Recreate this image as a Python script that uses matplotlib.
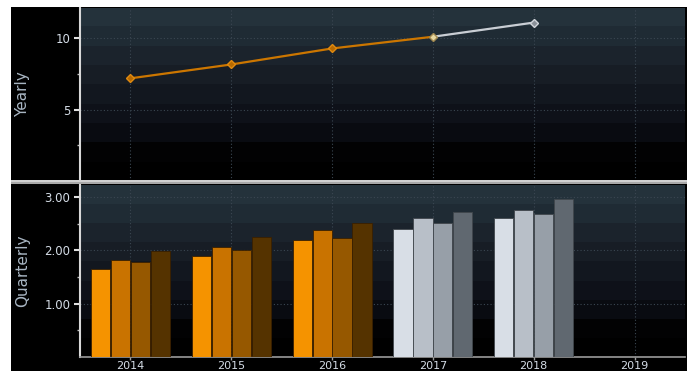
import matplotlib
matplotlib.use("Agg")
import matplotlib.pyplot as plt
import numpy as np
from matplotlib.patches import Rectangle

# ---- data ----
years = [2014, 2015, 2016, 2017, 2018]
year_ticks = [2014, 2015, 2016, 2017, 2018, 2019]
yearly_values = [7.18, 8.15, 9.27, 10.09, 11.08]
n_actual = 4  # 2014-2017 reported (orange line), 2017-2018 estimate (grey)

q1 = [1.65, 1.89, 2.19, 2.40, 2.61]
q2 = [1.83, 2.06, 2.39, 2.61, 2.76]
q3 = [1.78, 2.01, 2.24, 2.51, 2.68]
q4 = [1.99, 2.26, 2.51, 2.72, 2.96]
n_actual_bars = 3  # 2014-2016 actual, 2017-2018 estimates

yearly_ticks = [5, 10]
quarterly_ticks = [1.0, 2.0, 3.0]
quarterly_ticklabels = ["1.00", "2.00", "3.00"]

# ---- styling ----
orange_q = ["#F59300", "#C97300", "#965800", "#553300"]
grey_q = ["#D8DEE6", "#B8BFC8", "#979FA8", "#606870"]
band_colors = ["#24323b", "#1f2b34", "#1b232c", "#171d25",
               "#12171f", "#0e1119", "#090b11", "#020203", "#000000"]
tick_color = "#D4DCE6"
label_color = "#A9B6C3"
grid_color = "#3b4752"

W, H = 689, 374
fig = plt.figure(figsize=(W / 100, H / 100), dpi=100, facecolor="white")

def fx(px):
    return px / W

def fy(py):
    return 1 - py / H

# black panel
fig.patches.append(Rectangle((fx(11), fy(371)), fx(676), 364 / H,
                             transform=fig.transFigure, facecolor="black",
                             edgecolor="none", zorder=-5))

ax1 = fig.add_axes([fx(80), fy(181), fx(605), 173 / H])
ax2 = fig.add_axes([fx(80), fy(357), fx(605), 172 / H])

grad = np.array([[matplotlib.colors.to_rgb(c)] for c in band_colors])

for ax in (ax1, ax2):
    ax.set_facecolor("black")
    ax.imshow(grad, extent=[0, 1, 0, 1], transform=ax.transAxes,
              aspect="auto", interpolation="nearest", zorder=0)
    for s in ("top", "right"):
        ax.spines[s].set_visible(False)
    ax.spines["left"].set_color("#D8D8D8")
    ax.spines["left"].set_linewidth(1.5)
    ax.spines["bottom"].set_color("#9a9a9a")
    ax.spines["bottom"].set_linewidth(1.2)
    ax.set_xlim(2013.5, 2019.5)
    ax.set_xticks(year_ticks)
    for x in year_ticks:
        ax.axvline(x, color=grid_color, lw=0.8, ls=(0, (1, 2)), zorder=1)
    ax.tick_params(axis="y", which="major", colors="#E0E0E0", labelcolor=tick_color,
                   length=4, width=1.5, labelsize=8.5, pad=3)
    ax.tick_params(axis="y", which="minor", colors="#C0C0C0", length=2, width=1)
    ax.tick_params(axis="x", colors="#9a9a9a", labelcolor=tick_color,
                   length=2.5, width=1, labelsize=8, pad=0.5)

# ---- top: yearly line ----
ax1.set_ylim(0, 12.1)
ax1.set_yticks(yearly_ticks)
ax1.set_yticks([2.5, 7.5], minor=True)
for y in yearly_ticks:
    ax1.axhline(y, color=grid_color, lw=0.8, ls=(0, (1, 2)), zorder=1)
ax1.tick_params(axis="x", labelbottom=False, length=0)
ax1.spines["bottom"].set_visible(False)

ax1.plot(years[:n_actual], yearly_values[:n_actual], color="#CC7600", lw=1.6,
         zorder=3)
ax1.plot(years[n_actual - 1:], yearly_values[n_actual - 1:], color="#C9CED4",
         lw=1.6, zorder=3)
ax1.plot(years[:n_actual - 1], yearly_values[:n_actual - 1], ls="none",
         marker="D", ms=4.5, mfc="#B86A00", mec="#E08A10", mew=1, zorder=4)
ax1.plot(years[n_actual - 1:n_actual], yearly_values[n_actual - 1:n_actual],
         ls="none", marker="D", ms=4.5, mfc="#E8D8A0", mec="#A08850", mew=1,
         zorder=4)
ax1.plot(years[n_actual:], yearly_values[n_actual:], ls="none", marker="D",
         ms=4.5, mfc="#8A9098", mec="#D0D4DA", mew=1, zorder=4)
ax1.set_ylabel("Yearly", color=label_color, fontsize=11)
ax1.yaxis.set_label_coords(-0.082, 0.5)

# ---- bottom: quarterly bars ----
ax2.set_ylim(0, 3.23)
ax2.set_yticks(quarterly_ticks)
ax2.set_yticklabels(quarterly_ticklabels)
ax2.set_yticks([0.5, 1.5, 2.5], minor=True)
for y in quarterly_ticks:
    ax2.axhline(y, color=grid_color, lw=0.8, ls=(0, (1, 2)), zorder=1)

bw = 0.198
quarters = [q1, q2, q3, q4]
yrs = np.array(years, dtype=float)
for i, q in enumerate(quarters):
    offs = (i - 1.5) * bw
    cols = [orange_q[i] if k < n_actual_bars else grey_q[i]
            for k in range(len(years))]
    edges = ["#3a2000" if k < n_actual_bars else "#40464c"
             for k in range(len(years))]
    ax2.bar(yrs + offs, q, width=bw * 0.96, color=cols, edgecolor=edges,
            linewidth=0.6, zorder=3)
ax2.set_ylabel("Quarterly", color=label_color, fontsize=11)
ax2.yaxis.set_label_coords(-0.082, 0.5)

# separator band between panels
fig.patches.append(Rectangle((fx(11), fy(184)), fx(676), 4 / H,
                             transform=fig.transFigure, facecolor="#A8A8A8",
                             edgecolor="none", zorder=10))
fig.patches.append(Rectangle((fx(11), fy(182)), fx(676), 1.5 / H,
                             transform=fig.transFigure, facecolor="#D0D0D0",
                             edgecolor="none", zorder=11))

fig.savefig("out.png", dpi=100, facecolor="white")
